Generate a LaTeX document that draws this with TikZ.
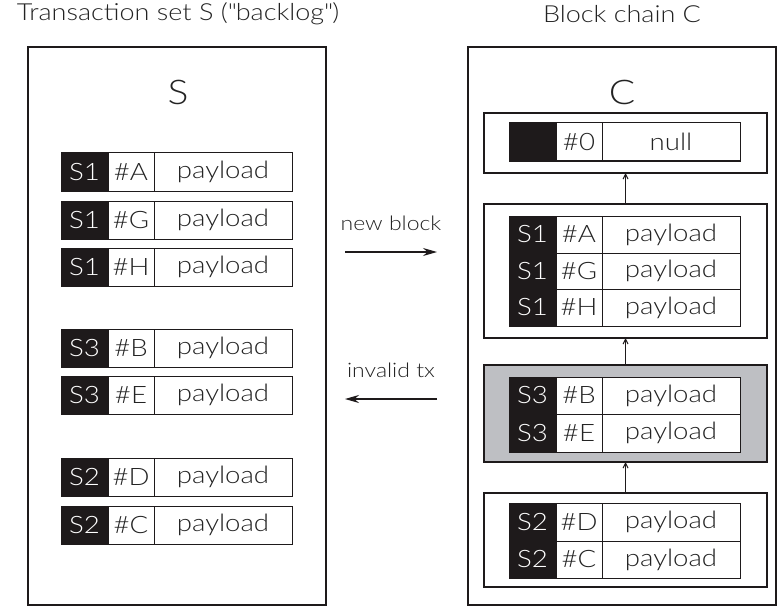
\documentclass[tikz,border=0pt]{standalone}
\usepackage{fontspec}
\IfFontExistsTF{Lato Light}
  {\setmainfont{Lato Light}[FakeStretch=1.15]}
  {\setmainfont{Lato}[FakeStretch=1.15]}
\usetikzlibrary{arrows.meta}
\definecolor{ink}{RGB}{30,26,27}
\definecolor{txt}{RGB}{35,35,35}
\definecolor{shade}{RGB}{190,191,195}
\newcommand\txrow[7]{%
  \node[sidc, minimum height=#4pt, anchor=north west] (#1s) at (#2,#3) {#5};
  \node[hashc, minimum height=#4pt, anchor=north west] (#1h) at (#1s.north east) {#6};
  \node[payc, minimum height=#4pt, anchor=north west] (#1p) at (#1h.north east) {#7};
}
\begin{document}
\begin{tikzpicture}[x=1pt,y=-1pt,
  cellfont/.style={font=\fontsize{24}{28}\selectfont},
  sidc/.style={cellfont, rectangle, draw=ink, fill=ink, text=white, line width=1pt,
    minimum width=47pt, inner sep=0pt, outer sep=0pt},
  hashc/.style={cellfont, rectangle, draw=ink, fill=white, text=txt, line width=1pt,
    minimum width=46pt, inner sep=0pt, outer sep=0pt},
  payc/.style={cellfont, rectangle, draw=ink, fill=white, text=txt, line width=1pt,
    minimum width=138pt, inner sep=0pt, outer sep=0pt},
  bigbox/.style={rectangle, draw=ink, line width=1.3pt, inner sep=0pt, outer sep=0pt},
  blockbox/.style={rectangle, draw=ink, line width=1.3pt, inner sep=0pt, outer sep=0pt,
    minimum width=283pt, anchor=north west},
  title/.style={font=\fontsize{23.5}{27}\selectfont, text=txt, inner sep=0pt},
  smalltitle/.style={font=\fontsize{20}{24}\selectfont, text=txt, inner sep=0pt},
  biglabel/.style={font=\fontsize{34}{40}\selectfont, text=txt, inner sep=0pt},
  flowarrow/.style={draw=ink, line width=1.2pt, -{Stealth[length=14pt,width=8pt]}},
  linkarrow/.style={draw=ink, line width=1pt, -{Straight Barb[length=5pt,width=5pt]}},
  ]
\useasboundingbox (0,0) rectangle (779,607);
\fill[white] (0,0) rectangle (779,607);

% titles
\node[title] (tS) at (178,14) {Transaction set S (\textquotedbl backlog\textquotedbl)};
\node[title] (tC) at (622,14) {Block chain C};

% big boxes
\node[bigbox, minimum width=298pt, minimum height=558pt, anchor=north west] (boxS) at (28,47) {};
\node[bigbox, minimum width=308pt, minimum height=558pt, anchor=north west] (boxC) at (468,47) {};
\node[biglabel] (lS) at (178,92) {S};
\node[biglabel] (lC) at (622,92) {C};

% left transaction set
\txrow{a}{61}{153}{38}{S1}{\#A}{payload}
\txrow{g}{61}{201}{38}{S1}{\#G}{payload}
\txrow{h}{61}{248}{38}{S1}{\#H}{payload}
\txrow{b}{61}{329}{38}{S3}{\#B}{payload}
\txrow{e}{61}{376}{38}{S3}{\#E}{payload}
\txrow{d}{61}{458}{38}{S2}{\#D}{payload}
\txrow{c}{61}{506}{38}{S2}{\#C}{payload}

% block boxes
\node[blockbox, minimum height=60pt] (blk0) at (484,113) {};
\node[blockbox, minimum height=134pt] (blk1) at (484,204) {};
\node[blockbox, minimum height=97pt, fill=shade] (blk2) at (484,365) {};
\node[blockbox, minimum height=94pt] (blk3) at (484,493) {};

% block rows
\txrow{z}{509}{123}{38}{}{\#0}{null}
\txrow{ra}{509}{216}{37}{S1}{\#A}{payload}
\txrow{rg}{509}{253}{36}{S1}{\#G}{payload}
\txrow{rh}{509}{289}{37}{S1}{\#H}{payload}
\txrow{rb}{509}{377}{37}{S3}{\#B}{payload}
\txrow{re}{509}{414}{38}{S3}{\#E}{payload}
\txrow{rd}{509}{503}{38}{S2}{\#D}{payload}
\txrow{rc}{509}{541}{37}{S2}{\#C}{payload}

% chain links
\draw[linkarrow] (blk1.north) -- (blk0.south);
\draw[linkarrow] (blk2.north) -- (blk1.south);
\draw[linkarrow] (blk3.north) -- (blk2.south);

% flow arrows
\coordinate (nbL) at (345,252);
\coordinate (nbR) at (437,252);
\coordinate (ivL) at (345,399);
\coordinate (ivR) at (437,399);
\draw[flowarrow] (nbL) -- (nbR);
\draw[flowarrow] (ivR) -- (ivL);
\node[smalltitle] (lnb) at (391,223) {new block};
\node[smalltitle] (liv) at (391,370) {invalid tx};
\end{tikzpicture}
\end{document}
